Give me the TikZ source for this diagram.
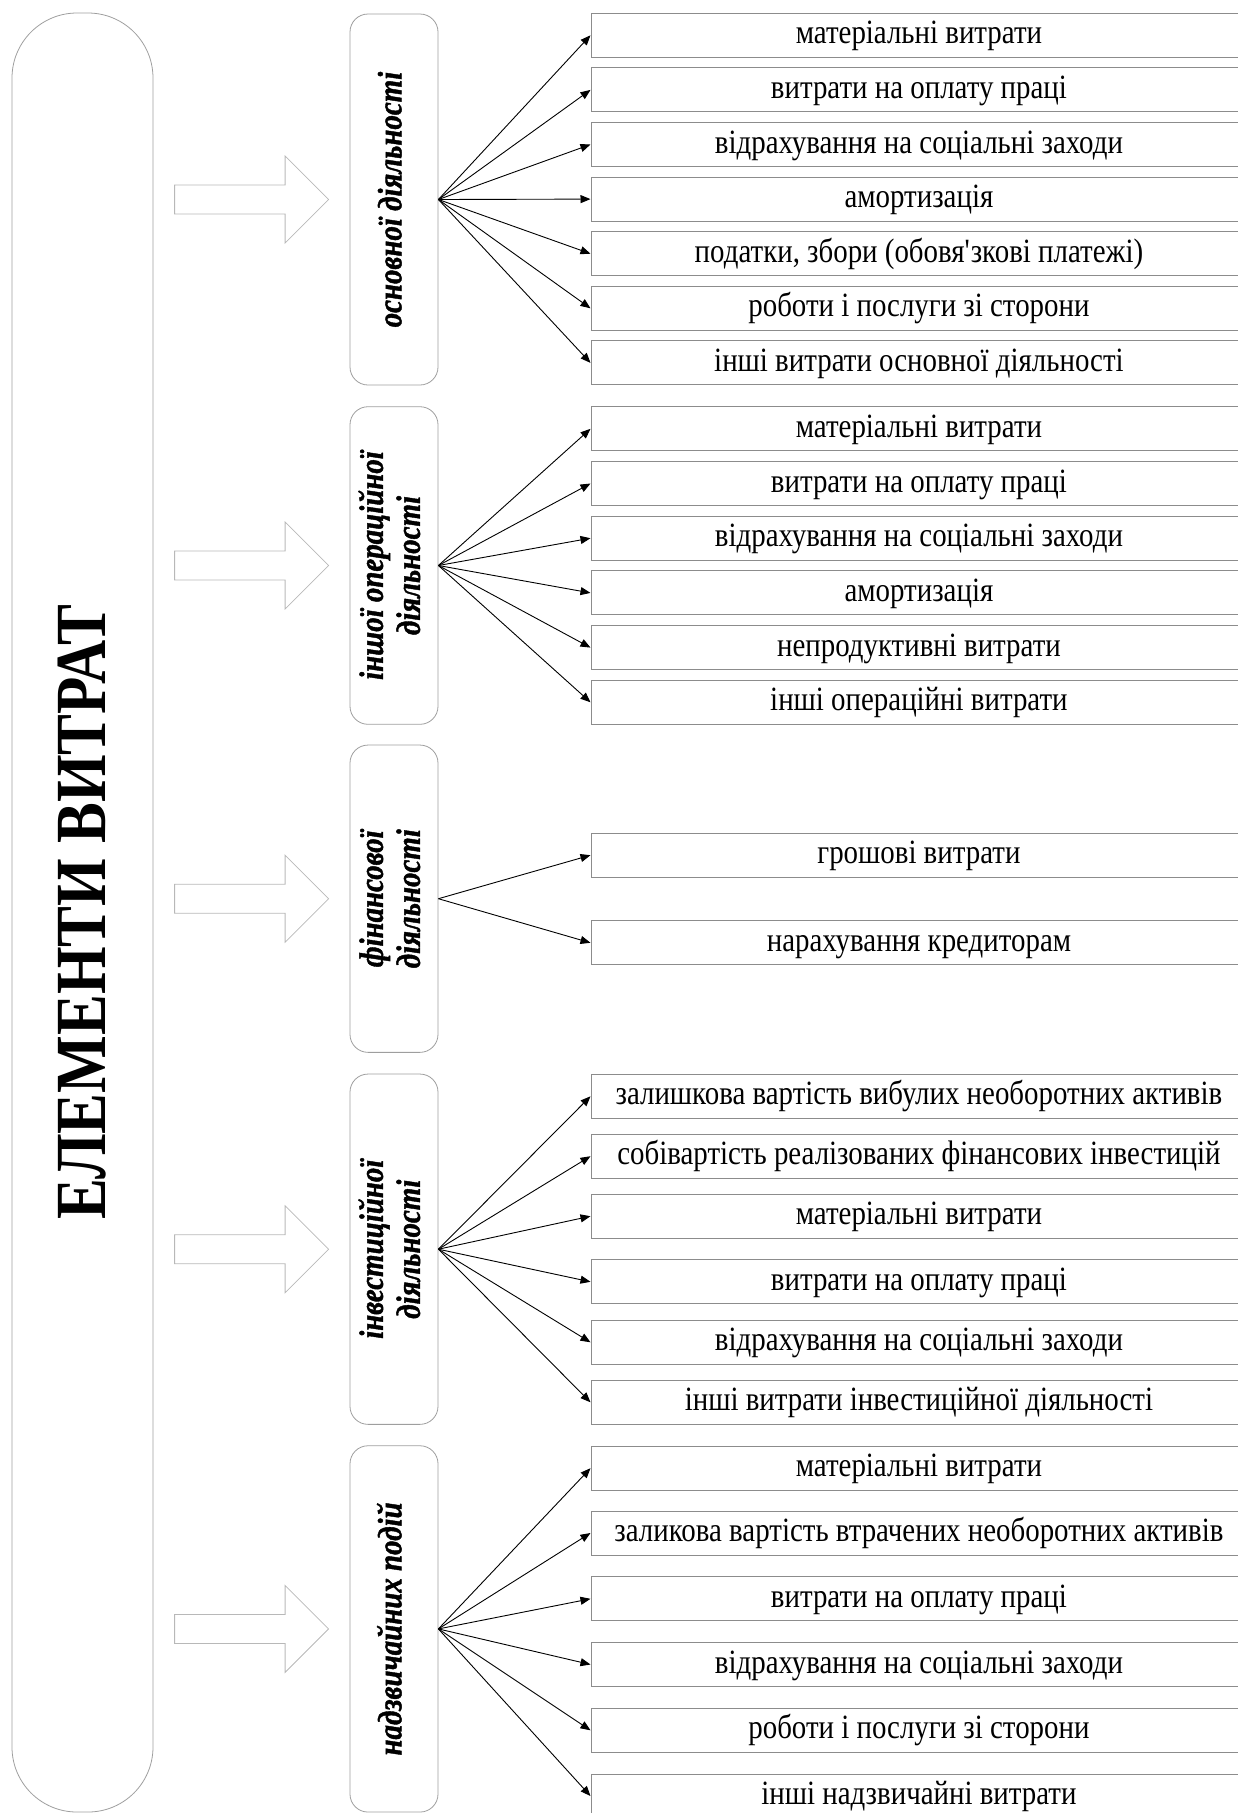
\documentclass[tikz,border=0pt]{standalone}
\usepackage{fontspec}
\setmainfont{Liberation Serif}[FakeStretch=0.85,
  BoldFont=Liberation Serif Bold, ItalicFont=Liberation Serif Italic,
  BoldItalicFont=Liberation Serif Bold Italic, BoldItalicFeatures={FakeBold=1.2}]
\usetikzlibrary{arrows.meta}

\definecolor{framegray}{gray}{0.55}
\definecolor{roundgray}{gray}{0.62}
\definecolor{blockgray}{gray}{0.72}

\tikzset{
  item/.style={draw=framegray, line width=0.9pt, minimum width=656pt, minimum height=44pt,
    anchor=west, inner sep=0pt, text height=24pt, text depth=7pt, font=\fontsize{34}{40}\selectfont},
  side/.style={draw=roundgray, line width=0.8pt, rounded corners=18pt, minimum width=88pt,
    inner sep=0pt, font=\fontsize{34}{37}\selectfont\bfseries\itshape},
  fan/.style={black, line width=0.9pt, -{Triangle[length=10pt,width=8pt]}},
  block/.style={draw=blockgray, line width=0.8pt}
}

\newcommand{\vlabel}[1]{\rotatebox{90}{\begin{tabular}{@{}c@{}}#1\end{tabular}}}
\newcommand{\blockarrow}[1]{\draw[block] ([xshift=-21pt]#1.west) -- ++(-43.5,-43.5) -- ++(0,29)
  -- ++(-110.5,0) -- ++(0,29) -- ++(110.5,0) -- ++(0,29) -- cycle;}

\begin{document}
\begin{tikzpicture}[x=1pt,y=-1pt]

    \useasboundingbox (0,0) rectangle (1238,1813);
    \clip (0,0) rectangle (1238,1813);

    % main box
    \node[draw=roundgray, line width=0.8pt, rounded corners=65pt, minimum width=141pt, minimum height=1799pt, inner sep=0pt]
        (elem) at (82.5,912.5) {\rotatebox{90}{\fontsize{72}{80}\selectfont\bfseries ЕЛЕМЕНТИ ВИТРАТ}};

    % kinds of activity
    \node[side, minimum height=371pt] (osn) at (394,199.5) {\vlabel{основної діяльності}};
    \node[side, minimum height=317.6pt] (oper) at (394,565.5) {\vlabel{іншої операційної\\діяльності}};
    \node[side, minimum height=307.3pt] (fin) at (394,898.7) {\vlabel{фінансової\\діяльності}};
    \node[side, minimum height=350.3pt] (inv) at (394,1249.2) {\vlabel{інвестиційної\\діяльності}};
    \node[side, minimum height=366.3pt] (nadz) at (394,1628.9) {\vlabel{надзвичайних подій}};

    \blockarrow{osn}
    \blockarrow{oper}
    \blockarrow{fin}
    \blockarrow{inv}
    \blockarrow{nadz}

    % основної діяльності
    \node[item] (o1) at (590.5,35.3) {матеріальні витрати};
    \node[item] (o2) at (590.5,89.9) {витрати на оплату праці};
    \node[item] (o3) at (590.5,144.5) {відрахування на соціальні заходи};
    \node[item] (o4) at (590.5,199.1) {амортизація};
    \node[item] (o5) at (590.5,253.7) {податки, збори (обовя\textquotesingle зкові платежі)};
    \node[item] (o6) at (590.5,308.3) {роботи і послуги зі сторони};
    \node[item] (o7) at (590.5,362.9) {інші витрати основної діяльності};

    \draw[fan] (osn.east) -- (o1.west);
    \draw[fan] (osn.east) -- (o2.west);
    \draw[fan] (osn.east) -- (o3.west);
    \draw[fan] (osn.east) -- (o4.west);
    \draw[fan] (osn.east) -- (o5.west);
    \draw[fan] (osn.east) -- (o6.west);
    \draw[fan] (osn.east) -- (o7.west);

    % іншої операційної діяльності
    \node[item] (p1) at (590.5,428.8) {матеріальні витрати};
    \node[item] (p2) at (590.5,483.5) {витрати на оплату праці};
    \node[item] (p3) at (590.5,538.2) {відрахування на соціальні заходи};
    \node[item] (p4) at (590.5,592.9) {амортизація};
    \node[item] (p5) at (590.5,647.6) {непродуктивні витрати};
    \node[item] (p6) at (590.5,702.3) {інші операційні витрати};

    \draw[fan] (oper.east) -- (p1.west);
    \draw[fan] (oper.east) -- (p2.west);
    \draw[fan] (oper.east) -- (p3.west);
    \draw[fan] (oper.east) -- (p4.west);
    \draw[fan] (oper.east) -- (p5.west);
    \draw[fan] (oper.east) -- (p6.west);

    % фінансової діяльності
    \node[item] (f1) at (590.5,855.2) {грошові витрати};
    \node[item] (f2) at (590.5,942.8) {нарахування кредиторам};

    \draw[fan] (fin.east) -- (f1.west);
    \draw[fan] (fin.east) -- (f2.west);

    % інвестиційної діяльності
    \node[item] (i1) at (590.5,1096.3) {залишкова вартість вибулих необоротних активів};
    \node[item] (i2) at (590.5,1156.2) {собівартість реалізованих фінансових інвестицій};
    \node[item] (i3) at (590.5,1216.2) {матеріальні витрати};
    \node[item] (i4) at (590.5,1281.8) {витрати на оплату праці};
    \node[item] (i5) at (590.5,1342.3) {відрахування на соціальні заходи};
    \node[item] (i6) at (590.5,1402.3) {інші витрати інвестиційної діяльності};

    \draw[fan] (inv.east) -- (i1.west);
    \draw[fan] (inv.east) -- (i2.west);
    \draw[fan] (inv.east) -- (i3.west);
    \draw[fan] (inv.east) -- (i4.west);
    \draw[fan] (inv.east) -- (i5.west);
    \draw[fan] (inv.east) -- (i6.west);

    % надзвичайних подій
    \node[item] (n1) at (590.5,1468.2) {матеріальні витрати};
    \node[item] (n2) at (590.5,1533) {заликова вартість втрачених необоротних активів};
    \node[item] (n3) at (590.5,1598.8) {витрати на оплату праці};
    \node[item] (n4) at (590.5,1664.5) {відрахування на соціальні заходи};
    \node[item] (n5) at (590.5,1730.3) {роботи і послуги зі сторони};
    \node[item] (n6) at (590.5,1796) {інші надзвичайні витрати};

    \draw[fan] (nadz.east) -- (n1.west);
    \draw[fan] (nadz.east) -- (n2.west);
    \draw[fan] (nadz.east) -- (n3.west);
    \draw[fan] (nadz.east) -- (n4.west);
    \draw[fan] (nadz.east) -- (n5.west);
    \draw[fan] (nadz.east) -- (n6.west);

\end{tikzpicture}
\end{document}
